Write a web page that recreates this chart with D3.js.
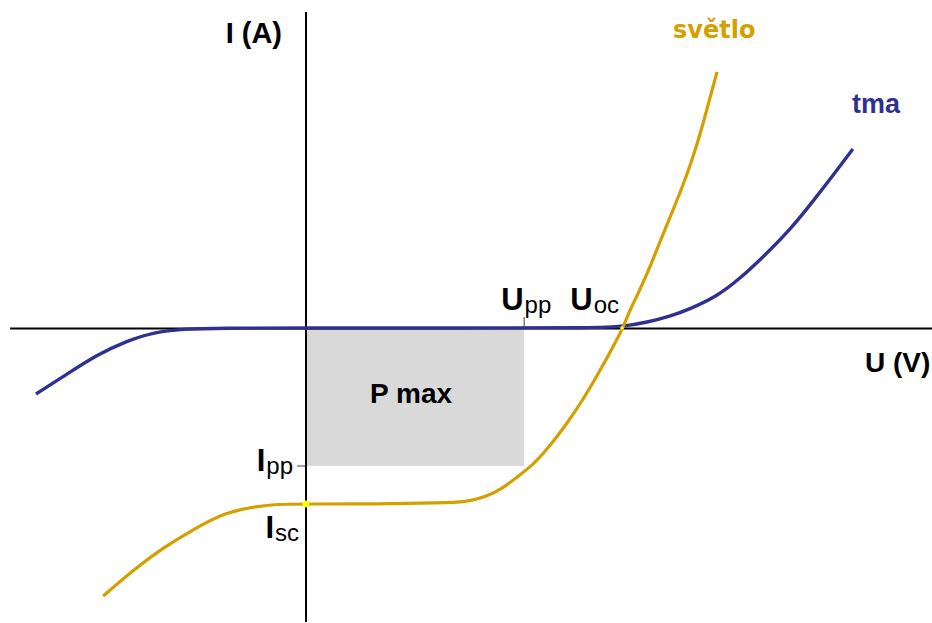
<!DOCTYPE html>
<html>
<head>
<meta charset="utf-8">
<script src="https://cdn.jsdelivr.net/npm/d3@7"></script>
<style>
  html, body { margin: 0; padding: 0; background: #fff; }
  svg { display: block; }
</style>
</head>
<body>
<div id="iv_viz"></div>
<script>
// I-V characteristic of a solar cell (light / dark)
var tmaU = [-0.511, -0.452, -0.396, -0.340, -0.287, -0.234, -0.163, 0, 0.30, 0.55, 0.604, 0.645, 0.689, 0.727, 0.778, 0.821, 0.865, 0.916, 0.960, 0.997, 1.035];
var tmaI = [-0.375, -0.261, -0.153, -0.074, -0.023, -0.006, 0, 0, 0, 0, 0.010, 0.032, 0.066, 0.108, 0.180, 0.280, 0.403, 0.557, 0.722, 0.865, 1.017];

var svetloU = [-0.384, -0.327, -0.271, -0.216, -0.150, -0.100, -0.055, 0, 0.140, 0.254, 0.303, 0.341, 0.373, 0.397, 0.430, 0.460, 0.492, 0.524, 0.555, 0.581, 0.600, 0.613, 0.632, 0.651, 0.670, 0.689, 0.708, 0.731, 0.750, 0.765, 0.778];
var svetloI = [-1.523, -1.375, -1.250, -1.148, -1.045, -1.017, -1.000, -1.0, -1.0, -0.994, -0.989, -0.960, -0.909, -0.852, -0.778, -0.676, -0.551, -0.409, -0.250, -0.108, 0, 0.102, 0.216, 0.347, 0.489, 0.631, 0.767, 0.955, 1.142, 1.313, 1.455];

var uRange = [-0.56, 1.19]; //extent of the U axis
var iRange = [-1.67, 1.795]; //extent of the I axis
var Upp = 0.413, Ipp = -0.784, Uoc = 0.600, Isc = -1.0;

var W = 932, H = 623,
	BLUE = "#2e3192", GOLD = "#d4a000",
	FONT = "'Liberation Sans', Arial, sans-serif";

var x = d3.scaleLinear().domain([0, Uoc]).range([306, 623]);
var y = d3.scaleLinear().domain([0, Isc]).range([328, 504]);

var vis = d3.select("#iv_viz")
	.append("svg")
	.attr("width", W)
	.attr("height", H);

//P max area
vis.append("rect")
	.attr("x", x(0) + 1)
	.attr("y", y(0))
	.attr("width", x(Upp) - x(0) - 1)
	.attr("height", y(Ipp) - y(0))
	.attr("fill", "#d9d9d9");

//small marks for Upp and Ipp
vis.append("line")
	.attr("x1", x(Upp)).attr("x2", x(Upp))
	.attr("y1", y(0) - 11).attr("y2", y(0))
	.attr("stroke", "#808080").attr("stroke-width", 1.5);
vis.append("line")
	.attr("x1", x(0) - 9).attr("x2", x(0))
	.attr("y1", y(Ipp)).attr("y2", y(Ipp))
	.attr("stroke", "#808080").attr("stroke-width", 1.5);

//axes
vis.append("line")
	.attr("x1", x(uRange[0])).attr("x2", x(uRange[1]))
	.attr("y1", y(0) + 0.5).attr("y2", y(0) + 0.5)
	.attr("stroke", "#000").attr("stroke-width", 2);
vis.append("line")
	.attr("x1", x(0)).attr("x2", x(0))
	.attr("y1", y(iRange[1])).attr("y2", y(iRange[0]))
	.attr("stroke", "#000").attr("stroke-width", 2);

//b-spline smooths the hand-read points
var line = d3.line()
	.x(function(d){ return x(d[0]); })
	.y(function(d){ return y(d[1]); })
	.curve(d3.curveBasis);

vis.append("path")
	.datum(d3.zip(tmaU, tmaI))
	.attr("d", line)
	.attr("fill", "none")
	.attr("stroke", BLUE)
	.attr("stroke-width", 3.4);

vis.append("path")
	.datum(d3.zip(svetloU, svetloI))
	.attr("d", line)
	.attr("fill", "none")
	.attr("stroke", GOLD)
	.attr("stroke-width", 3.2);

//yellow points at Isc and Uoc
vis.append("circle")
	.attr("cx", x(0)).attr("cy", y(Isc)).attr("r", 3.5)
	.attr("fill", "#ffff00");
vis.append("circle")
	.attr("cx", x(Uoc) - 1).attr("cy", y(0)).attr("r", 1.8)
	.attr("fill", "#ffff00");

//plain labels
function label(tx, ty, txt, opt){
	return vis.append("text")
		.attr("x", tx)
		.attr("y", ty)
		.attr("text-anchor", opt.anchor || "start")
		.style("font-family", opt.family || FONT)
		.style("font-weight", "bold")
		.style("font-size", opt.size + "px")
		.attr("fill", opt.color || "#000")
		.text(txt);
}

label(x(0) - 24, 43, "I (A)", {anchor: "end", size: 29});
label(865, 372, "U (V)", {size: 28});
label((x(0) + x(Upp)) / 2 - 4, 403, "P max", {anchor: "middle", size: 28});
label(673, 38, "světlo", {size: 24, color: GOLD, family: "'DejaVu Sans', Verdana, sans-serif"});
label(852, 113, "tma", {size: 27, color: BLUE});

//labels with a subscript
function subLabel(tx, ty, main, sub, anchor){
	var t = vis.append("text")
		.attr("x", tx)
		.attr("y", ty)
		.attr("text-anchor", anchor)
		.style("font-family", FONT)
		.attr("fill", "#000");
	t.append("tspan")
		.style("font-weight", "bold")
		.style("font-size", "31px")
		.text(main);
	t.append("tspan")
		.attr("dy", 3)
		.attr("dx", 1)
		.style("font-size", "24px")
		.text(sub);
}

subLabel(x(Upp) + 2, 310, "U", "pp", "middle");
subLabel(x(Uoc) - 4, 310, "U", "oc", "end");
subLabel(x(0) - 13, y(Ipp) + 5, "I", "pp", "end");
subLabel(x(0) - 7, 538, "I", "sc", "end");
</script>
</body>
</html>
